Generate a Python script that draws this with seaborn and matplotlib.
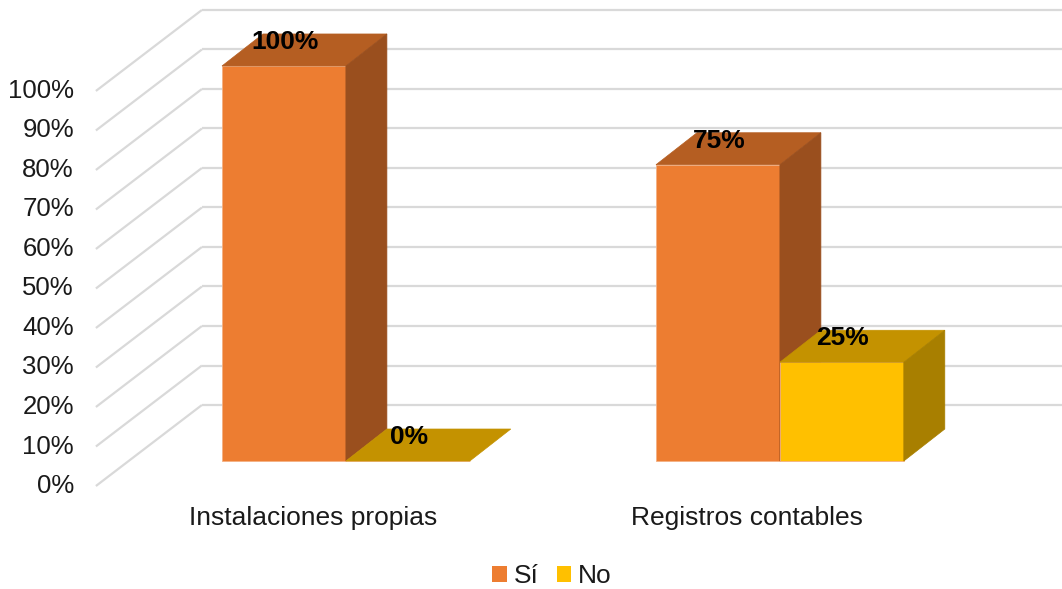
import matplotlib
matplotlib.use("Agg")
import matplotlib.pyplot as plt
from matplotlib.patches import Polygon, Patch
import seaborn as sns
import pandas as pd

# ---- data ----
categories = ["Instalaciones propias", "Registros contables"]
series = ["Sí", "No"]
si_values = [1.00, 0.75]
no_values = [0.00, 0.25]
y_ticks = [0.0, 0.1, 0.2, 0.3, 0.4, 0.5, 0.6, 0.7, 0.8, 0.9, 1.0]
y_tick_labels = [f"{int(round(t * 100))}%" for t in y_ticks]

# ---- style ----
front_colors = {"Sí": "#ED7D31", "No": "#FFC000"}
top_colors = {"Sí": "#B55E22", "No": "#C49200"}
side_colors = {"Sí": "#9A4F1E", "No": "#A87F00"}
grid_color = "#D9D9D9"
text_color = "#1a1a1a"
FS = 18.5
FS_CAT = 19
FS_LAB = 19

sns.set_theme(style="white")
plt.rcParams["font.family"] = ["Liberation Sans", "DejaVu Sans"]

W, H = 1062, 589
fig = plt.figure(figsize=(W / 100, H / 100), dpi=100)
ax = fig.add_axes([0, 0, 1, 1])

df = pd.DataFrame({
    "cat": categories * 2,
    "resp": ["Sí"] * len(categories) + ["No"] * len(categories),
    "val": si_values + no_values,
})
sns.barplot(data=df, x="cat", y="val", hue="resp", hue_order=series,
            palette=[front_colors[s] for s in series], width=0.571,
            ax=ax, legend=False, saturation=1, edgecolor="#F4B183",
            linewidth=0.6, zorder=3)

XLIM = (-0.797, 1.65)
YLIM = (-0.324, 1.167)
ax.set_xlim(*XLIM)
ax.set_ylim(*YLIM)
ax.axis("off")

sx = W / (XLIM[1] - XLIM[0])   # px per x unit
sy = H / (YLIM[1] - YLIM[0])   # px per y unit

def dx(px):
    return px / sx

def dy(px):
    return px / sy

# depth offsets (pixels -> data)
bar_d = (dx(41), dy(32))
wall_d = (dx(73), dy(56))
front_d = (dx(-33), dy(-25))

# ---- gridlines: back wall + diagonal floor lines ----
x_left = -0.5
for t in y_ticks:
    xb, yb = x_left + wall_d[0], t + wall_d[1]
    xf, yf = x_left + front_d[0], t + front_d[1]
    ax.plot([xb, XLIM[1] + 1], [yb, yb], color=grid_color, lw=1.6, zorder=1,
            solid_capstyle="butt")
    ax.plot([xf, xb], [yf, yb], color=grid_color, lw=1.6, zorder=1,
            solid_capstyle="butt")

for t, lab in zip(y_ticks, y_tick_labels):
    ax.text(x_left + front_d[0] - dx(22), t + front_d[1], lab, ha="right",
            va="center", fontsize=FS, color=text_color)

# ---- 3D faces for each bar ----
bars = []
for container, s in zip(ax.containers, series):
    for patch, v in zip(container.patches, [si_values, no_values][series.index(s)]):
        bars.append((patch, s, v))
bars.sort(key=lambda b: b[0].get_x())

z = 3
for patch, s, v in bars:
    x0 = patch.get_x()
    w = patch.get_width()
    h = patch.get_height()
    patch.set_zorder(z)
    top = Polygon([(x0, h), (x0 + w, h), (x0 + w + bar_d[0], h + bar_d[1]),
                   (x0 + bar_d[0], h + bar_d[1])], closed=True,
                  facecolor=top_colors[s], edgecolor=top_colors[s], lw=0.5,
                  zorder=z)
    ax.add_patch(top)
    if h > 0:
        side = Polygon([(x0 + w, 0), (x0 + w, h), (x0 + w + bar_d[0], h + bar_d[1]),
                        (x0 + w + bar_d[0], bar_d[1])], closed=True,
                       facecolor=side_colors[s], edgecolor=side_colors[s], lw=0.5,
                       zorder=z)
        ax.add_patch(side)
    ax.text(x0 + w / 2 + dx(1), h + bar_d[1] - dy(15), f"{int(round(v * 100))}%",
            ha="center", va="baseline", fontsize=FS_LAB, fontweight="bold",
            color="black", zorder=10)
    z += 1

# ---- category labels ----
for i, c in enumerate(categories):
    ax.text(i + front_d[0], dy(-57), c, ha="center", va="center",
            fontsize=FS_CAT, color=text_color)

# ---- legend ----
handles = [Patch(facecolor=front_colors[s], edgecolor="none") for s in series]
fig.legend(handles, series, loc="center", bbox_to_anchor=(552 / W, 1 - 576 / H),
           ncol=2, frameon=False, fontsize=FS_CAT, handlelength=0.55,
           handleheight=0.55, handletextpad=0.25, columnspacing=0.7,
           labelcolor=text_color)

fig.savefig("out.png", dpi=100)
